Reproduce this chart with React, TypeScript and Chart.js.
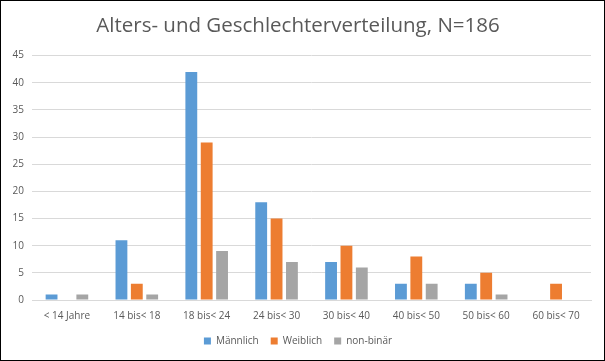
import React, { useEffect, useRef } from "react";
import { Chart, registerables } from "chart.js";

Chart.register(...registerables);

const categories = ["< 14 Jahre", "14 bis< 18", "18 bis< 24", "24 bis< 30", "30 bis< 40", "40 bis< 50", "50 bis< 60", "60 bis< 70"];
const maennlich = [1, 11, 42, 18, 7, 3, 3, 0];
const weiblich = [0, 3, 29, 15, 10, 8, 5, 3];
const nonBinaer = [1, 1, 9, 7, 6, 3, 1, 0];
const yTicks = [0, 5, 10, 15, 20, 25, 30, 35, 40, 45];
const titleText = "Alters- und Geschlechterverteilung, N=186";

const FONT = "'Open Sans', 'Liberation Sans', sans-serif";

export default function App() {
  const ref = useRef<HTMLCanvasElement | null>(null);
  useEffect(() => {
    document.body.style.margin = "0";
    const ctx = ref.current!;
    const chart = new Chart(ctx, {
      type: "bar",
      data: {
        labels: categories,
        datasets: [
          { label: "Männlich", data: maennlich, backgroundColor: "#5b9bd5" },
          { label: "Weiblich", data: weiblich, backgroundColor: "#ed7d31" },
          { label: "non-binär", data: nonBinaer, backgroundColor: "#a5a5a5" },
        ],
      },
      options: {
        animation: false,
        responsive: false,
        maintainAspectRatio: false,
        datasets: { bar: { categoryPercentage: 0.66, barPercentage: 0.77 } },
        layout: { padding: { left: 4, right: 13, top: 4, bottom: 4 } },
        plugins: {
          title: {
            display: true,
            text: titleText,
            color: "#595959",
            font: { family: FONT, size: 20.5, weight: "normal" },
            padding: { top: 9, bottom: 17 },
          },
          legend: {
            position: "bottom",
            labels: {
              color: "#595959",
              font: { family: FONT, size: 10 },
              boxWidth: 7,
              boxHeight: 7,
              padding: 12,
            },
          },
          tooltip: { enabled: false },
        },
        scales: {
          x: {
            grid: { display: false },
            border: { color: "#d9d9d9" },
            ticks: { color: "#595959", font: { family: FONT, size: 10 }, maxRotation: 0, padding: 2 },
          },
          y: {
            min: 0,
            max: 45,
            afterBuildTicks: (axis: any) => {
              axis.ticks = yTicks.map((v) => ({ value: v }));
            },
            afterFit: (axis: any) => {
              axis.width = 27;
            },
            grid: { color: "#d9d9d9", drawTicks: false },
            border: { display: false },
            ticks: { color: "#595959", font: { family: FONT, size: 10 }, padding: 8 },
          },
        },
      },
    });
    return () => chart.destroy();
  }, []);
  return (
    <div style={{ width: 605, height: 361, border: "1px solid #000", boxSizing: "border-box", background: "#fff" }}>
      <canvas ref={ref} width={603} height={359} style={{ display: "block" }} />
    </div>
  );
}
